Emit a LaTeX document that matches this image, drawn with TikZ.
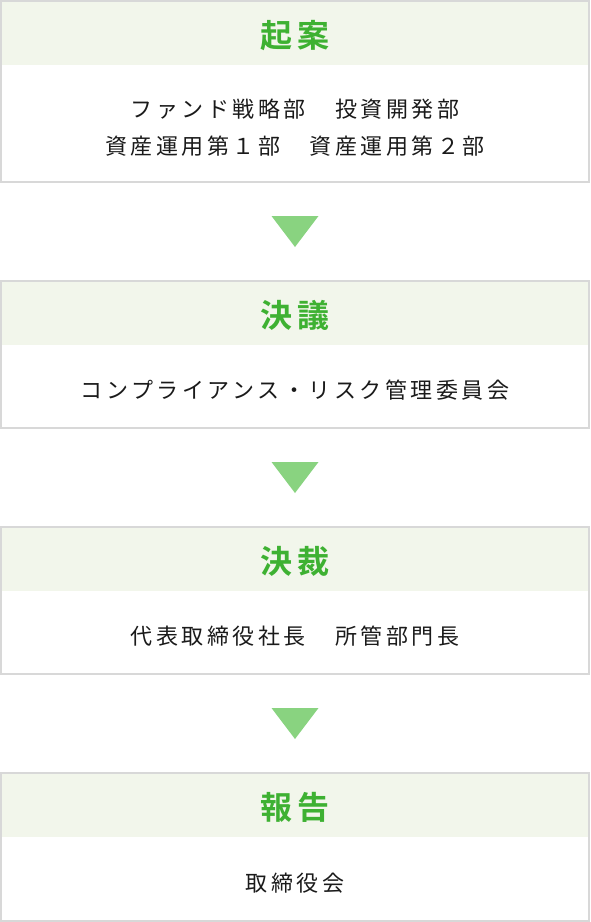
\documentclass[tikz,border=0pt]{standalone}
\usepackage{fontspec}
\newfontfamily\jpfont[LetterSpace=16]{Noto Sans CJK JP}
\newfontfamily\jptitle[LetterSpace=14]{Noto Sans CJK JP Bold}
\usetikzlibrary{positioning, calc}
\definecolor{framegray}{RGB}{216,216,216}
\definecolor{headbg}{RGB}{242,246,235}
\definecolor{titlegreen}{RGB}{62,177,50}
\definecolor{arrowgreen}{RGB}{137,211,128}
\definecolor{bodyblack}{RGB}{26,26,26}

\begin{document}
\begin{tikzpicture}[
                x=1pt, y=-1pt,
                framebox/.style={draw=framegray, line width=2pt, minimum width=588pt, inner sep=0pt, outer sep=0pt},
                headband/.style={fill=headbg, minimum width=586pt, minimum height=63pt, inner sep=0pt, anchor=north},
                titletext/.style={text=titlegreen, yshift=-2pt, font=\jptitle\fontsize{32}{34}\selectfont},
                bodytext/.style={align=center, text=bodyblack, yshift=-3.5pt, font=\jpfont\fontsize{22}{37}\selectfont},
                arrowtri/.style={fill=arrowgreen}
                ]
                \useasboundingbox (0,0) rectangle (590,922);

                %% Frames
                \node[framebox, minimum height=181pt] (kian) at (295,91.5) {};
                \node[framebox, minimum height=147pt] (ketsugi) at (295,354.5) {};
                \node[framebox, minimum height=147pt] (kessai) at (295,600.5) {};
                \node[framebox, minimum height=148pt] (houkoku) at (295,847) {};

                %% Header bands
                \node[headband] (kianhead) at ([yshift=-1pt]kian.north) {};
                \node[headband] (ketsugihead) at ([yshift=-1pt]ketsugi.north) {};
                \node[headband] (kessaihead) at ([yshift=-1pt]kessai.north) {};
                \node[headband] (houkokuhead) at ([yshift=-1pt]houkoku.north) {};

                %% Titles
                \node[titletext] (kiantitle) at (kianhead) {起案};
                \node[titletext] (ketsugititle) at (ketsugihead) {決議};
                \node[titletext] (kessaititle) at (kessaihead) {決裁};
                \node[titletext] (houkokutitle) at (houkokuhead) {報告};

                %% Texts
                \node[bodytext] (kianbody) at ($(kianhead.south)!0.5!(kian.south)$)
                    {ファンド戦略部　投資開発部\\資産運用第１部　資産運用第２部};
                \node[bodytext] (ketsugibody) at ($(ketsugihead.south)!0.5!(ketsugi.south)$)
                    {コンプライアンス・リスク管理委員会};
                \node[bodytext] (kessaibody) at ($(kessaihead.south)!0.5!(kessai.south)$)
                    {代表取締役社長　所管部門長};
                \node[bodytext] (houkokubody) at ($(houkokuhead.south)!0.5!(houkoku.south)$)
                    {取締役会};

                %% Arrows
                \foreach \from/\to in {kian/ketsugi, ketsugi/kessai, kessai/houkoku}{
                    \coordinate (mid) at ($(\from.south)!0.5!(\to.north)$);
                    \fill[arrowtri] ($(mid)+(-23.5,-15.5)$) -- ($(mid)+(23.5,-15.5)$) -- ($(mid)+(0,15.5)$) -- cycle;
                }
\end{tikzpicture}
\end{document}
